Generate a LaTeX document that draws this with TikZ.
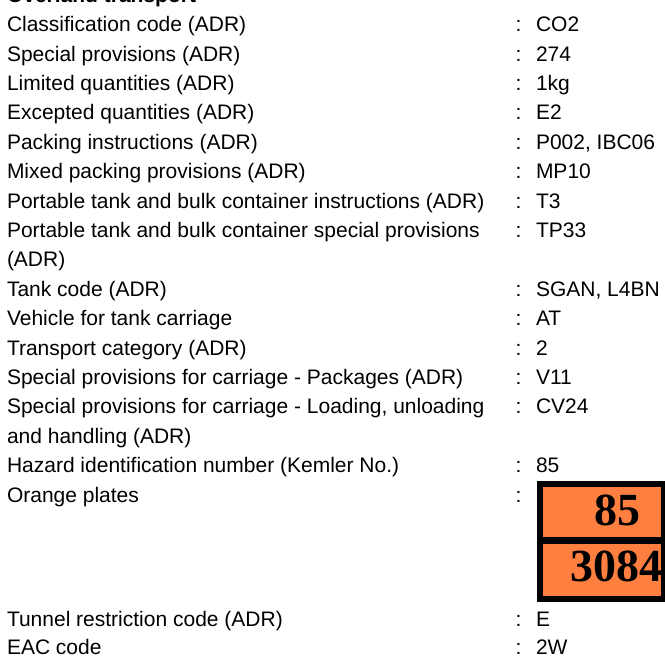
\documentclass[tikz,border=0pt]{standalone}
\usepackage{fontspec}
\setmainfont{Liberation Sans}
\newfontfamily\platefont{Liberation Serif}
\definecolor{plateorange}{RGB}{255,127,64}
\tikzset{
  lbl/.style={anchor=base west, inner sep=0pt, outer sep=0pt, font=\fontsize{21}{25}\selectfont},
  platenum/.style={anchor=base, inner sep=0pt, font=\platefont\bfseries\fontsize{46}{50}\selectfont}
}
\newcommand\adrrow[4]{%
  \node[lbl] (#1-l) at (7,#2) {#3};
  \node[lbl] (#1-c) at (515.5,#2) {:};
  \node[lbl] (#1-v) at (536,#2) {#4};
}
\begin{document}
\begin{tikzpicture}[x=1pt,y=1pt]
\useasboundingbox (0,0) rectangle (665,657);
\clip (0,0) rectangle (665,657);
\node[lbl, font=\bfseries\fontsize{21}{25}\selectfont] (title) at (7,654) {Overland transport};
\adrrow{r1}{625.3}{Classification code (ADR)}{CO2}
\adrrow{r2}{595.9}{Special provisions (ADR)}{274}
\adrrow{r3}{566.5}{Limited quantities (ADR)}{1kg}
\adrrow{r4}{537.1}{Excepted quantities (ADR)}{E2}
\adrrow{r5}{507.7}{Packing instructions (ADR)}{P002, IBC06}
\adrrow{r6}{478.3}{Mixed packing provisions (ADR)}{MP10}
\adrrow{r7}{448.9}{Portable tank and bulk container instructions (ADR)}{T3}
\adrrow{r8}{419.5}{Portable tank and bulk container special provisions}{TP33}
\node[lbl] (r9-l) at (7,390.1) {(ADR)};
\adrrow{r10}{360.7}{Tank code (ADR)}{SGAN, L4BN}
\adrrow{r11}{331.3}{Vehicle for tank carriage}{AT}
\adrrow{r12}{301.9}{Transport category (ADR)}{2}
\adrrow{r13}{272.5}{Special provisions for carriage - Packages (ADR)}{V11}
\adrrow{r14}{243.1}{Special provisions for carriage - Loading, unloading}{CV24}
\node[lbl] (r15-l) at (7,213.7) {and handling (ADR)};
\adrrow{r16}{184.3}{Hazard identification number (Kemler No.)}{85}
\node[lbl] (r17-l) at (7,154.9) {Orange plates};
\node[lbl] (r17-c) at (515.5,154.9) {:};
% orange plate
\fill[black] (537,55) rectangle (670,176);
\fill[plateorange] (543,120.3) rectangle (661,170.3);
\fill[plateorange] (543,61) rectangle (661,113);
\node[platenum] (kemler) at (617,131.3) {85};
\node[platenum] (unnum) at (616.7,75.3) {3084};
\adrrow{r18}{30.4}{Tunnel restriction code (ADR)}{E}
\adrrow{r19}{2.0}{EAC code}{2W}
\end{tikzpicture}
\end{document}
